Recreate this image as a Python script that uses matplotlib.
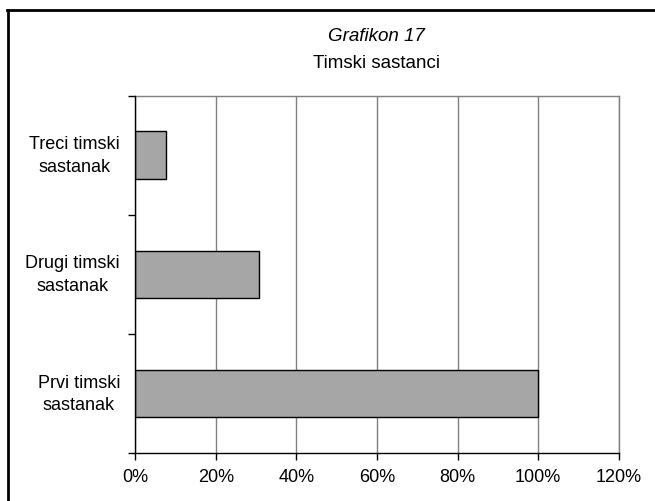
import matplotlib.pyplot as plt
from matplotlib.lines import Line2D
from matplotlib.ticker import FuncFormatter, MultipleLocator, FixedLocator

plt.rcParams['font.family'] = ['Liberation Sans', 'DejaVu Sans']

# data
categories = ['Prvi timski\nsastanak', 'Drugi timski\nsastanak', 'Treci timski\nsastanak']
values = [100.0, 30.8, 7.7]
title_top = 'Grafikon 17'
title_main = 'Timski sastanci'

fig = plt.figure(figsize=(6.55, 5.02), dpi=100)
ax = fig.add_axes([0.2067, 0.0956, 0.7377, 0.7118])

ypos = list(range(len(categories)))
ax.barh(ypos, values, height=0.4, color='#a6a6a6', edgecolor='black', linewidth=1.0, zorder=3)

ax.set_xlim(0, 120)
ax.set_ylim(-0.5, len(categories) - 0.5)

# x axis
ax.xaxis.set_major_locator(MultipleLocator(20))
ax.xaxis.set_major_formatter(FuncFormatter(lambda v, p: f'{int(round(v))}%'))
ax.tick_params(axis='x', direction='out', length=5, width=1, pad=6, labelsize=13, colors='black')
ax.grid(axis='x', color='#808080', linewidth=1.0, zorder=0)

# y axis: labels at centres, ticks at category boundaries
ax.set_yticks(ypos)
ax.set_yticklabels(categories)
ax.yaxis.set_minor_locator(FixedLocator([i - 0.5 for i in range(len(categories) + 1)]))
ax.tick_params(axis='y', which='major', length=0, pad=11, labelsize=13)
ax.tick_params(axis='y', which='minor', direction='out', length=5, width=1)
for lab in ax.get_yticklabels():
    lab.set_multialignment('center')
    lab.set_linespacing(1.45)
    lab.set_verticalalignment('center')

for side in ['left', 'bottom']:
    ax.spines[side].set_color('black')
    ax.spines[side].set_linewidth(1.0)
    ax.spines[side].set_zorder(4)
for side in ['top', 'right']:
    ax.spines[side].set_color('#808080')
    ax.spines[side].set_linewidth(1.0)

# titles
fig.text(0.575, 0.927, title_top, ha='center', va='center', fontsize=13.5, style='italic')
fig.text(0.575, 0.874, title_main, ha='center', va='center', fontsize=13.5)

# outer frame (top and left only)
fig.add_artist(Line2D([0.0105, 1.0], [0.9785, 0.9785], transform=fig.transFigure, color='black', linewidth=2))
fig.add_artist(Line2D([0.0122, 0.0122], [0.0, 0.9785], transform=fig.transFigure, color='black', linewidth=2))

fig.savefig('out.png', dpi=100)
